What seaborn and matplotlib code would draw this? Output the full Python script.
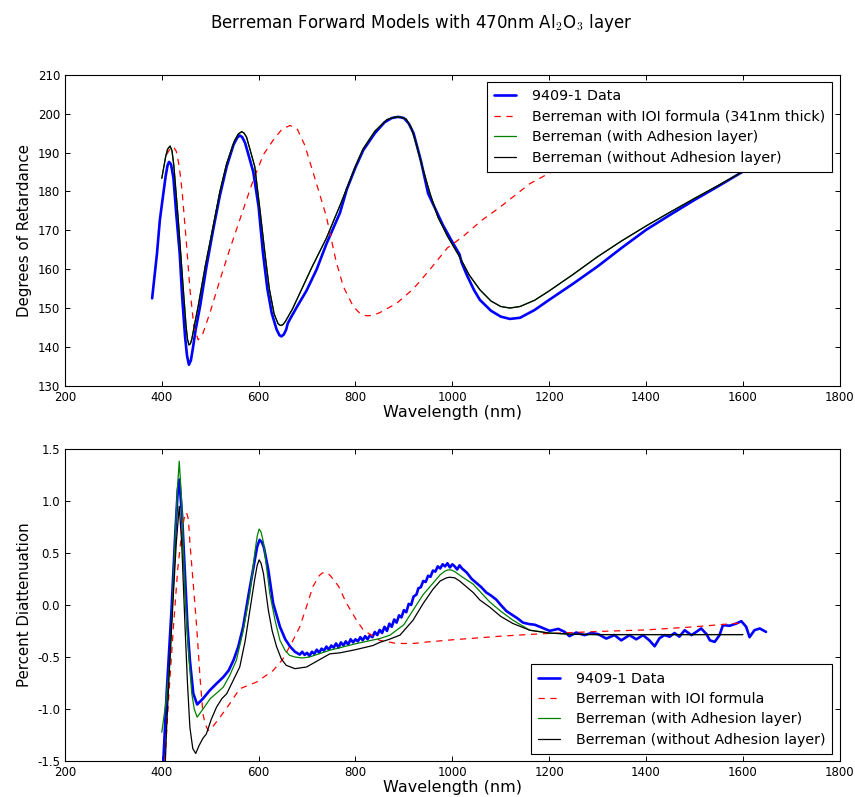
import matplotlib
matplotlib.use("Agg")
import matplotlib.pyplot as plt
import seaborn as sns

# ---------------- Top panel: retardance ----------------
top_data_wl = [380, 390, 396, 400, 408, 412, 415, 419, 424, 430, 437, 442, 448, 452, 456, 460,
               464, 470, 479, 492, 506, 520, 534, 548, 556, 561, 566, 572, 580, 589, 600, 609,
               618, 627, 637, 643, 647, 652, 657, 660, 665, 680, 699, 720, 740, 768, 782, 800,
               816, 840, 860, 875, 888, 900, 910, 920, 935, 950, 965, 980, 1000, 1015, 1019,
               1030, 1045, 1057, 1080, 1100, 1119, 1140, 1170, 1200, 1250, 1300, 1350, 1400,
               1450, 1500, 1550, 1600]
top_data_ret = [152.5, 164, 172.7, 176.5, 184, 186.8, 187.6, 187, 183.5, 174, 164, 153, 142.7,
                137.8, 135.4, 136.5, 139.5, 144.5, 150.4, 160.5, 170.1, 179, 186.4, 192, 193.9,
                194.4, 194, 192.5, 189, 185, 176, 164.1, 155, 148.7, 144.5, 143, 142.7, 143.2,
                144.5, 146, 147.2, 150.5, 154.5, 160, 166.5, 174.5, 180.5, 186.2, 190.6, 195,
                197.8, 198.9, 199.2, 198.9, 197.5, 195, 188, 179.5, 175.5, 171.5, 167, 163.8,
                161.8, 158.5, 154.6, 152.1, 149.3, 147.8, 147.2, 147.5, 149.5, 152.1, 156.3,
                160.7, 165.5, 170.1, 174, 177.8, 181.4, 185.1]

top_ioi_wl = [410, 418, 424, 430, 436, 442, 450, 458, 466, 475, 485, 500, 520, 540, 561, 589,
              610, 630, 648, 665, 680, 695, 713, 740, 760, 775, 795, 810, 823, 835, 850, 885,
              920, 953, 990, 1022, 1060, 1100, 1160, 1200, 1250, 1300, 1400, 1500, 1600]
top_ioi_ret = [189.5, 191.2, 191.5, 190.3, 186.5, 180, 168, 155, 145.5, 141.8, 143.5, 149,
               157.2, 165, 172.7, 183, 189.5, 193.2, 196, 197, 196, 192, 184.7, 173.5, 162,
               155.5, 150.5, 148.5, 148, 148.1, 148.8, 151.2, 155, 159.8, 165.5, 168.4, 172.5,
               176.1, 182, 184.7, 187.5, 190.3, 195, 199, 202.5]

top_model_wl = [400, 408, 412, 417, 421, 425, 434, 444, 450, 453, 456, 459, 462, 468, 475, 490,
                506, 520, 534, 550, 558, 565, 570, 575, 584, 592, 603, 613, 622, 632, 640, 645,
                650, 655, 670, 685, 710, 740, 770, 800, 816, 840, 865, 880, 893, 905, 915, 925,
                940, 954, 970, 990, 1015, 1035, 1057, 1080, 1100, 1119, 1140, 1170, 1200, 1250,
                1300, 1350, 1400, 1450, 1500, 1550, 1600]
top_noadh_ret = [183.4, 189, 190.9, 191.7, 190.5, 186.5, 172.7, 155.5, 145.5, 142, 140.5, 140.8,
                 142, 146, 150.4, 161, 171, 180, 187.2, 193, 194.8, 195.4, 195, 194, 190, 186.4,
                 175, 164.1, 155, 148.5, 146, 145.5, 145.7, 146.5, 149.8, 153.8, 160.5, 168,
                 177, 186.5, 191, 195.5, 198.5, 199.1, 199.2, 198.6, 196.5, 192.5, 185.5, 179.5,
                 173.5, 168.5, 163.2, 158.5, 154.7, 151.8, 150.4, 150, 150.4, 152, 154.4, 158.7,
                 163.2, 167.3, 171.1, 174.7, 178.2, 181.6, 185.1]
top_adh_ret = top_noadh_ret

# ---------------- Bottom panel: diattenuation ----------------
bot_data_wl = [400, 410, 420, 428, 433, 436, 442, 448, 453, 458, 465, 473, 485, 499, 512, 527,
               538, 548, 558, 568, 580, 590, 597, 602, 607, 611, 620, 630, 644, 655, 665, 675,
               685, 690, 695, 700, 705, 710, 715, 720, 725, 730, 735, 740, 745, 750, 755, 760,
               765, 770, 775, 780, 785, 790, 795, 800, 805, 810, 815, 820, 825, 830, 835, 840,
               845, 850, 855, 860, 865, 870, 875, 880, 885, 890, 895, 900, 905, 910, 915, 920,
               926, 930, 935, 940, 945, 950, 955, 960, 965, 970, 975, 980, 985, 990, 995, 1000,
               1005, 1010, 1015, 1020, 1025, 1030, 1040, 1050, 1060, 1070, 1080, 1091, 1100,
               1112, 1125, 1135, 1146, 1160, 1170, 1181, 1201, 1219, 1232, 1242, 1256, 1273,
               1287, 1301, 1318, 1335, 1349, 1366, 1380, 1394, 1407, 1418, 1428, 1438, 1449,
               1459, 1469, 1480, 1494, 1504, 1514, 1525, 1532, 1542, 1552, 1559, 1573, 1587,
               1597, 1607, 1614, 1624, 1635, 1648]
bot_data_dia = [-1.8, -0.85, -0.05, 0.7, 1.1, 1.204, 0.85, 0.27, -0.2, -0.532, -0.85, -0.956,
                -0.9, -0.821, -0.76, -0.693, -0.63, -0.532, -0.4, -0.21, 0.12, 0.38, 0.56, 0.625,
                0.6, 0.55, 0.336, 0.015, -0.21, -0.33, -0.40, -0.45, -0.477, -0.45, -0.48,
                -0.46, -0.49, -0.45, -0.47, -0.43, -0.46, -0.42, -0.44, -0.40, -0.43, -0.39,
                -0.41, -0.37, -0.41, -0.36, -0.39, -0.35, -0.38, -0.33, -0.36, -0.33, -0.35,
                -0.31, -0.34, -0.30, -0.33, -0.29, -0.31, -0.26, -0.29, -0.24, -0.27, -0.21,
                -0.25, -0.18, -0.21, -0.14, -0.17, -0.10, -0.12, -0.05, -0.07, 0.01, 0.0, 0.08,
                0.10, 0.16, 0.17, 0.23, 0.22, 0.28, 0.27, 0.33, 0.32, 0.37, 0.35, 0.39, 0.37,
                0.40, 0.36, 0.39, 0.37, 0.34, 0.38, 0.35, 0.33, 0.31, 0.25, 0.21, 0.17, 0.12,
                0.09, 0.05, 0.0, -0.06, -0.1, -0.13, -0.17, -0.185, -0.19, -0.21, -0.249, -0.23,
                -0.259, -0.30, -0.265, -0.29, -0.27, -0.28, -0.323, -0.29, -0.34, -0.29, -0.33,
                -0.29, -0.34, -0.397, -0.32, -0.29, -0.305, -0.27, -0.305, -0.243, -0.29,
                -0.259, -0.226, -0.28, -0.34, -0.355, -0.29, -0.194, -0.20, -0.178, -0.156,
                -0.21, -0.31, -0.243, -0.226, -0.259]

bot_ioi_wl = [405, 414, 424, 433, 441, 446, 451, 455, 458, 465, 472, 479, 485, 490, 496, 505,
              520, 540, 561, 596, 630, 650, 671, 685, 700, 712, 725, 731, 737, 743, 750, 765,
              781, 800, 816, 850, 885, 920, 950, 1000, 1043, 1100, 1180, 1250, 1300, 1400,
              1500, 1600]
bot_ioi_dia = [-1.6, -0.9, -0.21, 0.35, 0.69, 0.83, 0.889, 0.82, 0.6, 0.2, -0.21, -0.7, -1.046,
               -1.15, -1.207, -1.17, -1.08, -0.95, -0.805, -0.74, -0.63, -0.52, -0.34, -0.21,
               0.0, 0.175, 0.28, 0.305, 0.314, 0.305, 0.27, 0.18, 0.02, -0.13, -0.24, -0.34,
               -0.37, -0.37, -0.355, -0.335, -0.32, -0.30, -0.278, -0.265, -0.255, -0.24,
               -0.21, -0.172]

bot_adh_wl = [400, 408, 417, 427, 432, 436, 441, 448, 455, 462, 467, 473, 485, 500, 515, 527,
              540, 554, 568, 582, 592, 597, 601, 605, 610, 623, 634, 644, 655, 664, 675, 690,
              705, 747, 802, 850, 871, 900, 919, 940, 960, 975, 985, 991, 998, 1005, 1020, 1043,
              1057, 1077, 1100, 1125, 1160, 1200, 1250, 1300, 1400, 1500, 1600]
bot_adh_dia = [-1.223, -0.95, -0.532, 0.593, 1.1, 1.38, 1.0, 0.111, -0.45, -0.853, -1.0, -1.078,
               -1.0, -0.9, -0.84, -0.789, -0.68, -0.532, -0.25, 0.111, 0.5, 0.66, 0.729, 0.7,
               0.6, 0.111, -0.15, -0.34, -0.44, -0.484, -0.5, -0.51, -0.5, -0.435, -0.371,
               -0.323, -0.291, -0.19, -0.05, 0.1, 0.208, 0.29, 0.325, 0.336, 0.335, 0.32, 0.27,
               0.2, 0.13, 0.03, -0.06, -0.146, -0.243, -0.27, -0.283, -0.285, -0.285, -0.285,
               -0.285]

bot_noadh_wl = [400, 410, 417, 424, 430, 436, 441, 448, 453, 458, 464, 470, 477, 485, 492, 502,
                513, 524, 534, 548, 561, 572, 582, 592, 597, 601, 605, 610, 620, 628, 637, 647,
                657, 675, 699, 747, 768, 800, 836, 850, 870, 892, 919, 940, 960, 975, 988, 995,
                1005, 1015, 1043, 1057, 1077, 1100, 1125, 1160, 1200, 1250, 1300, 1400, 1500,
                1600]
bot_noadh_dia = [-2.4, -1.175, -0.5, 0.111, 0.6, 0.947, 0.6, -0.21, -0.75, -1.175, -1.38, -1.426,
                 -1.35, -1.28, -1.239, -1.1, -0.982, -0.9, -0.853, -0.72, -0.596, -0.35, -0.05,
                 0.25, 0.38, 0.433, 0.4, 0.3, -0.05, -0.25, -0.40, -0.52, -0.58, -0.612, -0.596,
                 -0.47, -0.46, -0.43, -0.39, -0.36, -0.33, -0.29, -0.146, 0.015, 0.15, 0.23,
                 0.26, 0.266, 0.26, 0.23, 0.12, 0.047, -0.02, -0.11, -0.178, -0.243, -0.27,
                 -0.282, -0.285, -0.285, -0.285, -0.285]

xticks = [200, 400, 600, 800, 1000, 1200, 1400, 1600, 1800]
top_yticks = [130, 140, 150, 160, 170, 180, 190, 200, 210]
bot_yticks = [-1.5, -1.0, -0.5, 0.0, 0.5, 1.0, 1.5]

labels_top = ["9409-1 Data", "Berreman with IOI formula (341nm thick)",
              "Berreman (with Adhesion layer)", "Berreman (without Adhesion layer)"]
labels_bot = ["9409-1 Data", "Berreman with IOI formula",
              "Berreman (with Adhesion layer)", "Berreman (without Adhesion layer)"]

# ---------------- Styling ----------------
sns.set_theme(style="ticks")
plt.rcParams.update({
    "font.family": ["DejaVu Sans"],
    "mathtext.fontset": "cm",
    "text.color": "black", "axes.labelcolor": "black",
    "xtick.direction": "in", "ytick.direction": "in",
    "xtick.top": True, "ytick.right": True,
    "xtick.major.size": 3.5, "ytick.major.size": 3.5,
    "xtick.major.width": 0.7, "ytick.major.width": 0.7,
    "xtick.labelsize": 8.5, "ytick.labelsize": 8.5,
    "axes.linewidth": 0.8, "axes.edgecolor": "black",
    "xtick.color": "black", "ytick.color": "black",
    "legend.fontsize": 10.3,
    "lines.solid_joinstyle": "round",
    "lines.solid_capstyle": "round",
})

fig = plt.figure(figsize=(8.55, 7.97), dpi=100)
ax1 = fig.add_axes([0.076, 0.516, 0.906, 0.390])
ax2 = fig.add_axes([0.076, 0.045, 0.906, 0.392])

dash = (0, (5, 4.5))


def draw(ax, series, labels):
    (xb, yb), (xr, yr), (xg, yg), (xk, yk) = series
    sns.lineplot(x=xb, y=yb, ax=ax, color="#0000ff", lw=1.9, label=labels[0],
                 sort=False, estimator=None)
    sns.lineplot(x=xr, y=yr, ax=ax, color="#ff0000", lw=0.9, label=labels[1],
                 sort=False, estimator=None, linestyle=dash)
    sns.lineplot(x=xg, y=yg, ax=ax, color="#008000", lw=0.9, label=labels[2],
                 sort=False, estimator=None)
    sns.lineplot(x=xk, y=yk, ax=ax, color="#000000", lw=0.9, label=labels[3],
                 sort=False, estimator=None)
    ax.set_xlim(200, 1800)
    ax.set_xticks(xticks)
    ax.set_xlabel("Wavelength (nm)", labelpad=1, fontsize=11.5)
    for sp in ax.spines.values():
        sp.set_visible(True)


legend_kw = dict(frameon=True, fancybox=False, framealpha=1, edgecolor="black",
                 handlelength=1.55, handletextpad=1.1, borderaxespad=0.5,
                 labelspacing=0.45, borderpad=0.5)

draw(ax1, [(top_data_wl, top_data_ret), (top_ioi_wl, top_ioi_ret),
           (top_model_wl, top_adh_ret), (top_model_wl, top_noadh_ret)], labels_top)
ax1.set_ylim(130, 210)
ax1.set_yticks(top_yticks)
ax1.set_ylabel("Degrees of Retardance", labelpad=4, fontsize=10.8)
leg1 = ax1.legend(loc="upper right", **legend_kw)
leg1.get_frame().set_linewidth(0.8)

draw(ax2, [(bot_data_wl, bot_data_dia), (bot_ioi_wl, bot_ioi_dia),
           (bot_adh_wl, bot_adh_dia), (bot_noadh_wl, bot_noadh_dia)], labels_bot)
ax2.set_ylim(-1.5, 1.5)
ax2.set_yticks(bot_yticks)
ax2.set_yticklabels([f"{v:.1f}" for v in bot_yticks])
ax2.set_ylabel("Percent Diattenuation", labelpad=4, fontsize=10.8)
leg2 = ax2.legend(loc="lower right", **legend_kw)
leg2.get_frame().set_linewidth(0.8)

fig.suptitle("Berreman Forward Models with 470nm Al$_2$O$_3$ layer", x=0.492, y=0.985,
             fontsize=12, color="black")

fig.savefig("out.png", dpi=100)
